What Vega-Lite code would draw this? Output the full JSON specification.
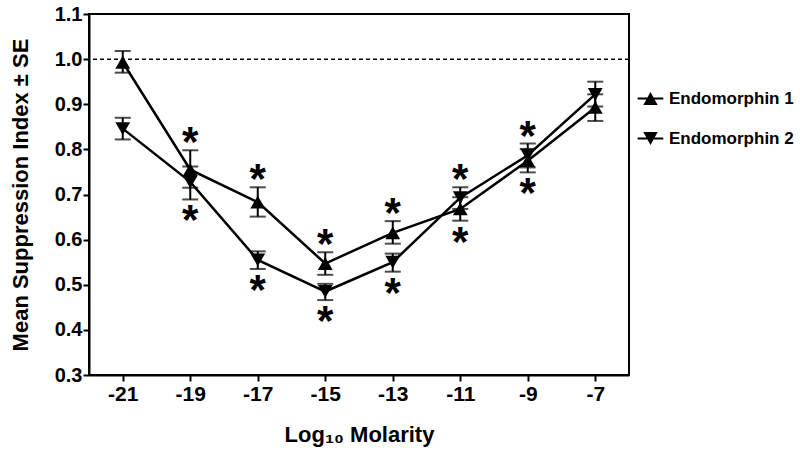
{
  "$schema": "https://vega.github.io/schema/vega-lite/v6.json",
  "width": 540,
  "height": 361,
  "autosize": {"type": "none"},
  "padding": {"left": 89, "top": 14, "right": 171, "bottom": 78},
  "background": "white",
  "config": {
    "view": {"stroke": "black", "strokeWidth": 2},
    "font": "Liberation Sans",
    "axis": {
      "grid": false,
      "domainColor": "black",
      "domainWidth": 2,
      "tickColor": "black",
      "tickWidth": 2,
      "tickSize": 6,
      "labelFont": "Liberation Sans",
      "labelFontWeight": "bold",
      "labelColor": "black",
      "titleFont": "Liberation Sans",
      "titleFontWeight": "bold",
      "titleColor": "black"
    }
  },
  "resolve": {"scale": {"shape": "independent"}, "legend": {"shape": "independent"}},
  "datasets": {
    "means": [
      {"series": "Endomorphin 1", "x": -21, "mean": 0.993, "lo": 0.970, "hi": 1.018},
      {"series": "Endomorphin 1", "x": -19, "mean": 0.755, "lo": 0.715, "hi": 0.798},
      {"series": "Endomorphin 1", "x": -17, "mean": 0.683, "lo": 0.651, "hi": 0.716},
      {"series": "Endomorphin 1", "x": -15, "mean": 0.547, "lo": 0.522, "hi": 0.572},
      {"series": "Endomorphin 1", "x": -13, "mean": 0.615, "lo": 0.591, "hi": 0.641},
      {"series": "Endomorphin 1", "x": -11, "mean": 0.668, "lo": 0.642, "hi": 0.694},
      {"series": "Endomorphin 1", "x": -9, "mean": 0.775, "lo": 0.749, "hi": 0.801},
      {"series": "Endomorphin 1", "x": -7, "mean": 0.893, "lo": 0.863, "hi": 0.922},
      {"series": "Endomorphin 2", "x": -21, "mean": 0.846, "lo": 0.822, "hi": 0.870},
      {"series": "Endomorphin 2", "x": -19, "mean": 0.728, "lo": 0.689, "hi": 0.762},
      {"series": "Endomorphin 2", "x": -17, "mean": 0.555, "lo": 0.535, "hi": 0.574},
      {"series": "Endomorphin 2", "x": -15, "mean": 0.485, "lo": 0.466, "hi": 0.502},
      {"series": "Endomorphin 2", "x": -13, "mean": 0.550, "lo": 0.529, "hi": 0.569},
      {"series": "Endomorphin 2", "x": -11, "mean": 0.693, "lo": 0.668, "hi": 0.716},
      {"series": "Endomorphin 2", "x": -9, "mean": 0.787, "lo": 0.760, "hi": 0.813},
      {"series": "Endomorphin 2", "x": -7, "mean": 0.922, "lo": 0.895, "hi": 0.950}
    ],
    "stars": [
      {"x": -19, "y": 0.798, "side": "above"},
      {"x": -17, "y": 0.716, "side": "above"},
      {"x": -15, "y": 0.572, "side": "above"},
      {"x": -13, "y": 0.641, "side": "above"},
      {"x": -11, "y": 0.716, "side": "above"},
      {"x": -9, "y": 0.813, "side": "above"},
      {"x": -19, "y": 0.689, "side": "below"},
      {"x": -17, "y": 0.535, "side": "below"},
      {"x": -15, "y": 0.466, "side": "below"},
      {"x": -13, "y": 0.529, "side": "below"},
      {"x": -11, "y": 0.642, "side": "below"},
      {"x": -9, "y": 0.749, "side": "below"}
    ],
    "ref": [{"y": 1.0}]
  },
  "layer": [
    {
      "data": {"name": "ref"},
      "mark": {"type": "rule", "stroke": "black", "strokeWidth": 1.5, "strokeDash": [4, 3]},
      "encoding": {"y": {"field": "y", "type": "quantitative", "scale": {"domain": [0.3, 1.1]}}}
    },
    {
      "data": {"name": "means"},
      "mark": {"type": "rule", "stroke": "black", "strokeWidth": 2},
      "encoding": {
        "x": {"field": "x", "type": "quantitative"},
        "y": {"field": "lo", "type": "quantitative"},
        "y2": {"field": "hi"}
      }
    },
    {
      "data": {"name": "means"},
      "mark": {"type": "tick", "orient": "horizontal", "color": "black", "size": 16, "thickness": 2},
      "encoding": {
        "x": {"field": "x", "type": "quantitative"},
        "y": {"field": "hi", "type": "quantitative"}
      }
    },
    {
      "data": {"name": "means"},
      "mark": {"type": "tick", "orient": "horizontal", "color": "black", "size": 16, "thickness": 2},
      "encoding": {
        "x": {"field": "x", "type": "quantitative"},
        "y": {"field": "lo", "type": "quantitative"}
      }
    },
    {
      "data": {"name": "means"},
      "mark": {"type": "line", "stroke": "black", "strokeWidth": 2.5},
      "encoding": {
        "x": {"field": "x", "type": "quantitative"},
        "y": {"field": "mean", "type": "quantitative"},
        "detail": {"field": "series"}
      }
    },
    {
      "data": {"name": "means"},
      "mark": {"type": "point", "filled": true, "fill": "black", "opacity": 1, "size": 220},
      "encoding": {
        "x": {
          "field": "x", "type": "quantitative",
          "scale": {"domain": [-22, -6], "nice": false, "zero": false},
          "axis": {"values": [-21, -19, -17, -15, -13, -11, -9, -7], "labelExpr": "datum.value + ''", "labelFontSize": 21, "labelPadding": 2, "title": "Log₁₀ Molarity", "titleFontSize": 22, "titlePadding": 20}
        },
        "y": {
          "field": "mean", "type": "quantitative",
          "scale": {"domain": [0.3, 1.1], "nice": false, "zero": false},
          "axis": {"values": [0.3, 0.4, 0.5, 0.6, 0.7, 0.8, 0.9, 1.0, 1.1], "format": ".1f", "labelFontSize": 20, "labelPadding": 1, "title": "Mean Suppression Index ± SE", "titleFontSize": 22, "titlePadding": 22}
        },
        "shape": {
          "field": "series", "type": "nominal",
          "scale": {"domain": ["Endomorphin 1", "Endomorphin 2"], "range": ["triangle-up", "triangle-down"]},
          "legend": null
        }
      }
    },
    {
      "data": {"name": "means"},
      "transform": [{"filter": "false"}],
      "mark": {"type": "point", "filled": true, "fill": "black", "opacity": 1},
      "encoding": {
        "x": {"field": "x", "type": "quantitative"},
        "y": {"field": "mean", "type": "quantitative"},
        "shape": {
          "field": "series", "type": "nominal",
          "scale": {"domain": ["Endomorphin 1", "Endomorphin 2"], "range": ["M-1.6,-0.13H1.6V0.13H-1.6ZM0,-0.8L0.9,0.8H-0.9Z", "M-1.6,-0.13H1.6V0.13H-1.6ZM0,0.8L-0.9,-0.8H0.9Z"]},
          "legend": {
            "orient": "none",
            "legendX": 553,
            "legendY": 76,
            "title": null,
            "padding": 0,
            "symbolSize": 256,
            "symbolFillColor": "black",
            "symbolStrokeWidth": 0,
            "symbolOpacity": 1,
            "labelFont": "Liberation Sans",
            "labelFontWeight": "bold",
            "labelFontSize": 17,
            "labelColor": "black",
            "labelOffset": 10,
            "rowPadding": 22
          }
        }
      }
    },
    {
      "data": {"name": "stars"},
      "transform": [{"filter": "datum.side === 'above'"}],
      "mark": {"type": "text", "text": "*", "font": "Liberation Sans", "fontWeight": "bold", "fontSize": 42, "baseline": "middle", "align": "center", "dy": -7, "color": "black"},
      "encoding": {
        "x": {"field": "x", "type": "quantitative"},
        "y": {"field": "y", "type": "quantitative"}
      }
    },
    {
      "data": {"name": "stars"},
      "transform": [{"filter": "datum.side === 'below'"}],
      "mark": {"type": "text", "text": "*", "font": "Liberation Sans", "fontWeight": "bold", "fontSize": 42, "baseline": "middle", "align": "center", "dy": 22, "color": "black"},
      "encoding": {
        "x": {"field": "x", "type": "quantitative"},
        "y": {"field": "y", "type": "quantitative"}
      }
    }
  ]
}
